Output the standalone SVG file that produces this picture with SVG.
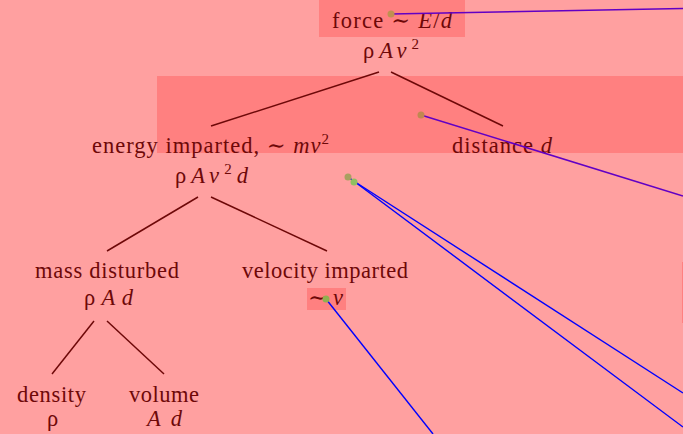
<svg xmlns="http://www.w3.org/2000/svg" width="683" height="434" viewBox="0 0 683 434">
<style>
.t{font-family:"Liberation Serif","DejaVu Serif",serif;font-size:22.5px;fill:#6e0808}
.m{font-style:italic}
.sup{font-size:15px}
.hl{fill:#ff8080}
.edge{stroke:#6e0808;stroke-width:1.5;fill:none}
.ann{stroke:#0000ff;stroke-width:1.4;fill:none}
.annp{stroke:#6200c4;stroke-width:1.6;fill:none}
</style>
<rect width="683" height="434" fill="#ffa0a0"/>
<rect class="hl" x="319" y="0" width="146" height="37"/>
<rect class="hl" x="157" y="76" width="526" height="77"/>
<rect class="hl" x="307" y="288" width="39" height="22"/>
<rect class="hl" x="682" y="262" width="1" height="61"/>
<g id="connectors">
<line class="edge" x1="379" y1="72" x2="211" y2="126"/>
<line class="edge" x1="391" y1="72" x2="503" y2="126"/>
<line class="edge" x1="198" y1="197" x2="107" y2="251"/>
<line class="edge" x1="211" y1="197" x2="327" y2="251"/>
<line class="edge" x1="94" y1="321" x2="52" y2="374"/>
<line class="edge" x1="107" y1="321" x2="164" y2="374"/>
</g>
<g id="force">
<text class="t" x="332" y="28" textLength="120">force ∼ <tspan class="m">E</tspan>/<tspan class="m">d</tspan></text>
<text class="t" x="363" y="58" textLength="56">ρ<tspan class="m">Av</tspan><tspan class="sup" dy="-9">2</tspan></text>
</g>
<g id="energy">
<text class="t" x="92" y="153" textLength="237">energy imparted, ∼ <tspan class="m">mv</tspan><tspan class="sup" dy="-9">2</tspan></text>
<text class="t" x="175" y="183" textLength="73">ρ<tspan class="m">Av</tspan><tspan class="sup" dy="-9">2</tspan><tspan class="m" dy="9">d</tspan></text>
</g>
<g id="distance">
<text class="t" x="452" y="153" textLength="100">distance <tspan class="m">d</tspan></text>
</g>
<g id="mass">
<text class="t" x="35" y="278" textLength="144">mass disturbed</text>
<text class="t" x="84" y="305" textLength="49">ρ<tspan class="m">Ad</tspan></text>
</g>
<g id="velocity">
<text class="t" x="242" y="278" textLength="166">velocity imparted</text>
<text class="t" x="308" y="305" textLength="35">∼<tspan class="m">v</tspan></text>
</g>
<g id="density">
<text class="t" x="17" y="402" textLength="69">density</text>
<text class="t" x="47" y="426">ρ</text>
</g>
<g id="volume">
<text class="t" x="129" y="402" textLength="70">volume</text>
<text class="t m" x="147" y="426" textLength="35">Ad</text>
</g>
<g id="annotations">
<line class="annp" x1="391" y1="14" x2="683" y2="8.5"/>
<line class="annp" x1="421" y1="115" x2="683" y2="196"/>
<line class="ann" x1="349" y1="178" x2="683" y2="393"/>
<line class="ann" x1="351" y1="179" x2="683" y2="427"/>
<line class="ann" x1="326" y1="299" x2="433" y2="434"/>
<circle cx="391" cy="14" r="3.5" fill="#c09050"/>
<circle cx="421" cy="115" r="3.5" fill="#c08850"/>
<circle cx="348" cy="177" r="3.5" fill="#a8a060"/>
<circle cx="354" cy="182" r="3.5" fill="#90c060"/>
<circle cx="326" cy="299" r="3.5" fill="#90b050"/>
</g>
</svg>
